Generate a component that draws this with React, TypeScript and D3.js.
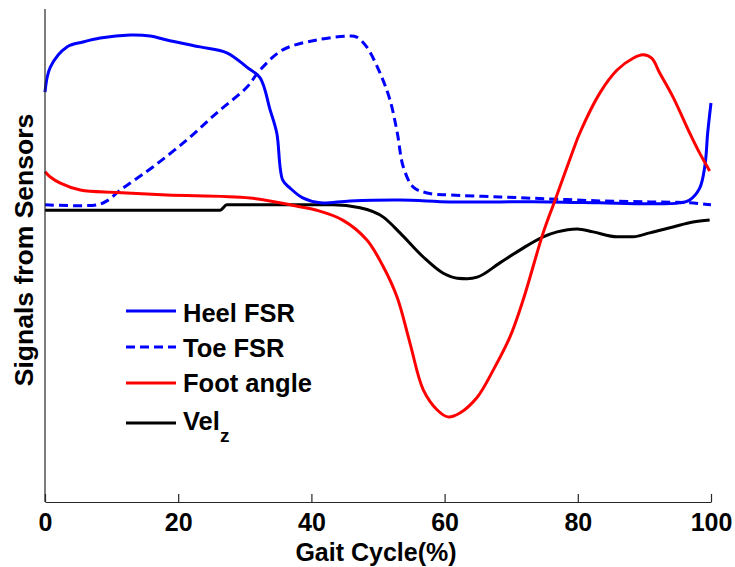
import React, { useEffect, useRef } from "react";
import * as d3 from "d3";

// Gait cycle percentage (x) and normalised sensor signal (y) for each trace
const heelX = [0, 0.8, 3.3, 5.7, 8.3, 12.8, 15.8, 18.3, 23.3, 27.3, 30.3, 32.3, 33.8, 34.8, 35.7, 36.8, 38.7, 41.3, 45.8, 53.3, 60.8, 68.3, 75.8, 83.3, 90.8, 95.3, 96.8, 98.3, 99.1, 99.5, 100];
const heelY = [83.3, 88.4, 92.5, 93.5, 94.3, 94.9, 94.7, 93.9, 92.5, 91.3, 88.4, 86.2, 79.7, 75.0, 65.4, 63.8, 61.8, 60.8, 61.2, 61.4, 61.0, 61.0, 61.0, 60.8, 60.6, 60.8, 61.4, 63.8, 68.5, 75.0, 81.1];

const toeX = [0, 7.8, 9.3, 11.3, 13.2, 16.2, 21.3, 25.8, 30.3, 32.3, 35.7, 40.8, 45.8, 46.8, 48.3, 50.3, 51.8, 52.9, 53.8, 55.3, 57.4, 60.8, 68.3, 75.8, 83.3, 90.8, 96.8, 100];
const toeY = [60.4, 60.4, 61.2, 63.4, 65.2, 68.1, 73.6, 79.1, 84.3, 87.8, 91.9, 93.9, 94.7, 94.5, 92.5, 87.2, 81.7, 75.0, 68.1, 64.0, 62.8, 62.4, 62.0, 61.6, 61.2, 61.0, 60.8, 60.4];

const footX = [0, 0.75, 2.3, 5.3, 10.8, 18.3, 30.8, 38.3, 40.8, 44.7, 48.3, 50.8, 52.9, 54.8, 56.8, 58.9, 60.5, 62.3, 64.9, 67.3, 69.8, 71.8, 74.8, 76.6, 79.3, 80.3, 83.3, 85.9, 88.3, 89.8, 91.1, 92.3, 94.3, 96.8, 98.3, 99.8];
const footY = [67.1, 66.1, 64.8, 63.4, 62.9, 62.4, 61.8, 60.0, 59.3, 57.3, 53.3, 47.8, 41.5, 32.3, 22.8, 18.7, 17.3, 18.1, 21.3, 26.8, 33.5, 41.1, 54.7, 61.4, 71.5, 75.0, 83.1, 87.8, 90.2, 90.9, 90.2, 87.2, 82.3, 75.0, 70.9, 67.3];

const velX = [0, 8, 16, 22, 26.3, 27.3, 30.8, 37, 43.2, 47.3, 50.8, 53.3, 56.8, 59.8, 61.9, 63.4, 64.9, 68.3, 71.3, 74.8, 76.9, 79.9, 82.3, 85.9, 88.3, 90.8, 94.3, 97.3, 99.8];
const velY = [59.3, 59.3, 59.3, 59.3, 59.3, 60.4, 60.4, 60.4, 60.4, 59.8, 57.9, 54.7, 49.8, 46.5, 45.5, 45.4, 45.7, 48.6, 51.2, 53.9, 54.9, 55.5, 54.9, 53.9, 53.9, 54.7, 55.9, 56.9, 57.3];

const xTicks = [0, 20, 40, 60, 80, 100];

const seriesNames = ["Heel FSR", "Toe FSR", "Foot angle", "Vel"];
const seriesColors = ["#0000ff", "#0000ff", "#ff0000", "#000000"];
const seriesDash = [null, "9,5", null, null];

const W = 735;
const H = 567;
const FONT = "'Liberation Sans', Arial, sans-serif";

export default function App() {
  const ref = useRef<SVGSVGElement | null>(null);

  useEffect(() => {
    const svg = d3.select(ref.current);
    svg.selectAll("*").remove();

    const x = d3.scaleLinear().domain([0, 100]).range([45, 711]);
    const y = d3.scaleLinear().domain([0, 100]).range([502, 10]);

    const makeLine = (curve: d3.CurveFactory) =>
      d3
        .line<[number, number]>()
        .x((d) => x(d[0]))
        .y((d) => y(d[1]))
        .curve(curve);
    const smooth = makeLine(d3.curveCatmullRom.alpha(0.5));
    const mono = makeLine(d3.curveMonotoneX);

    const zip = (xs: number[], ys: number[]) =>
      xs.map((v, i) => [v, ys[i]] as [number, number]);

    const traces = [
      { data: zip(velX, velY), idx: 3, gen: mono },
      { data: zip(heelX, heelY), idx: 0, gen: smooth },
      { data: zip(toeX, toeY), idx: 1, gen: smooth },
      { data: zip(footX, footY), idx: 2, gen: smooth },
    ];

    const g = svg.append("g");
    traces.forEach((t) => {
      g.append("path")
        .attr("d", t.gen(t.data))
        .attr("fill", "none")
        .attr("stroke", seriesColors[t.idx])
        .attr("stroke-width", 3)
        .attr("stroke-linejoin", "round")
        .attr("stroke-dasharray", seriesDash[t.idx]);
    });

    // Axes
    const xAxis = d3
      .axisBottom(x)
      .tickValues(xTicks)
      .tickSizeInner(-8)
      .tickSizeOuter(0)
      .tickFormat(d3.format("d"));
    const ax = svg.append("g").attr("transform", "translate(0,502)").call(xAxis);
    ax.select(".domain").attr("stroke", "#262626").attr("stroke-width", 1.2);
    ax.selectAll(".tick line").attr("stroke", "#262626").attr("stroke-width", 1.2);
    ax.selectAll(".tick text")
      .attr("y", 29)
      .attr("dy", 0)
      .attr("fill", "#000")
      .style("font-family", FONT)
      .style("font-size", "25px")
      .style("font-weight", "bold");

    svg.append("line")
      .attr("x1", 45).attr("x2", 45)
      .attr("y1", 9).attr("y2", 502)
      .attr("stroke", "#262626")
      .attr("stroke-width", 1.2);

    // Axis titles
    svg.append("text")
      .attr("x", 376)
      .attr("y", 561)
      .attr("text-anchor", "middle")
      .style("font-family", FONT)
      .style("font-size", "25px")
      .style("font-weight", "bold")
      .text("Gait Cycle(%)");

    svg.append("text")
      .attr("transform", "translate(33,250) rotate(-90)")
      .attr("text-anchor", "middle")
      .style("font-family", FONT)
      .style("font-size", "26.5px")
      .style("font-weight", "bold")
      .text("Signals from Sensors");

    // Legend
    const legendLineY = [311, 347, 383, 423];
    const legendTextY = [322, 357, 392, 430];
    const lg = svg.append("g");
    seriesNames.forEach((name, i) => {
      lg.append("line")
        .attr("x1", 126).attr("x2", 176)
        .attr("y1", legendLineY[i]).attr("y2", legendLineY[i])
        .attr("stroke", seriesColors[i])
        .attr("stroke-width", 3)
        .attr("stroke-dasharray", seriesDash[i]);
      const t = lg.append("text")
        .attr("x", 183)
        .attr("y", legendTextY[i])
        .style("font-family", FONT)
        .style("font-size", "25.5px")
        .style("font-weight", "bold")
        .text(name);
      if (i === 3) {
        t.append("tspan")
          .attr("dy", 12)
          .style("font-size", "19px")
          .text("z");
      }
    });
  }, []);

  return (
    <svg
      ref={ref}
      width={W}
      height={H}
      style={{ position: "absolute", left: 0, top: 0, background: "#fff" }}
    />
  );
}
